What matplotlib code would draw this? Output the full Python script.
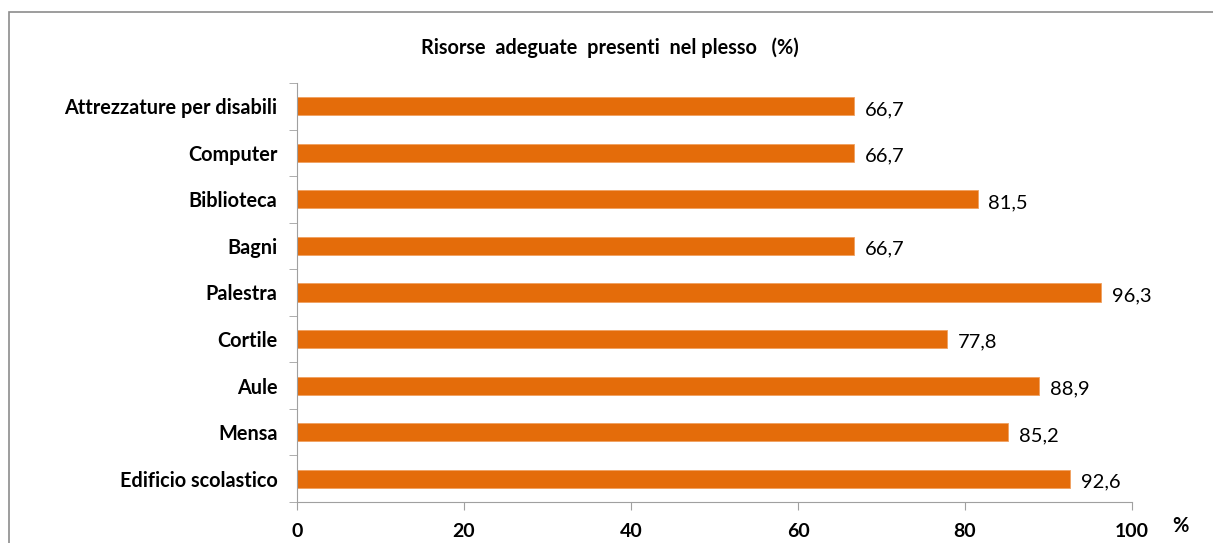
import matplotlib
matplotlib.use("Agg")
import matplotlib.pyplot as plt
from matplotlib.patches import Rectangle
import numpy as np

categories = ["Edificio scolastico", "Mensa", "Aule", "Cortile", "Palestra",
              "Bagni", "Biblioteca", "Computer", "Attrezzature per disabili"]
values = [92.6, 85.2, 88.9, 77.8, 96.3, 66.7, 81.5, 66.7, 66.7]
xticks = [0, 20, 40, 60, 80, 100]

plt.rcParams['font.family'] = ['Lato', 'DejaVu Sans']

fig = plt.figure(figsize=(12.13, 5.43), dpi=100)
ax = fig.add_axes([297 / 1213, 1 - 502 / 543, (1132 - 297) / 1213, (502 - 83) / 543])

y = np.arange(len(categories))
ax.barh(y, values, height=0.39, color="#E46C0A", edgecolor="#F0A060", linewidth=0.6)

for yi, v in zip(y, values):
    ax.text(v + 1.3, yi - 0.07, f"{v:.1f}".replace(".", ","), va="center", ha="left",
            fontsize=14.5)

ax.set_xlim(0, 100)
ax.set_ylim(-0.5, len(categories) - 0.5)
ax.set_xticks(xticks)
ax.set_xticklabels([str(t) for t in xticks], fontsize=14, fontweight="bold")
ax.set_yticks(y)
ax.set_yticklabels(categories, fontsize=14.3, fontweight="bold")
ax.set_yticks(np.arange(-0.5, len(categories)), minor=True)
ax.tick_params(axis="y", which="major", length=0, pad=14)
ax.tick_params(axis="y", which="minor", length=6, color="#A0A0A0", direction="out")
ax.tick_params(axis="x", length=6, color="#A0A0A0", pad=9)

for s in ["top", "right"]:
    ax.spines[s].set_visible(False)
for s in ["left", "bottom"]:
    ax.spines[s].set_color("#A0A0A0")

ax.text(1.058, -0.058, "%", transform=ax.transAxes, fontsize=14.5, fontweight="bold",
        ha="center", va="center")

fig.text(0.503, 1 - 48 / 543, "Risorse  adeguate  presenti  nel plesso   (%)",
         ha="center", va="center", fontsize=14.3, fontweight="bold")

fig.patches.append(Rectangle((9 / 1213, -0.05), 1.05, 1 - 12 / 543 + 0.05,
                             transform=fig.transFigure, fill=False,
                             edgecolor="#8C8C8C", linewidth=1.2))

fig.savefig("out.png", dpi=100)
